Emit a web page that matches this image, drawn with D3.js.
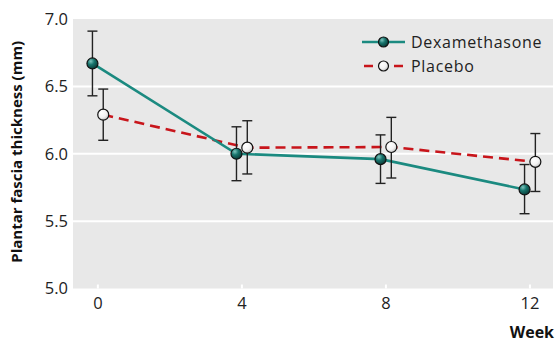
<!DOCTYPE html>
<html>
<head>
<meta charset="utf-8">
<script src="https://cdn.jsdelivr.net/npm/d3@7"></script>
<style>
  body { margin: 0; background: #fff; }
  text { font-family: "Open Sans", "Noto Sans", sans-serif; }
</style>
</head>
<body>
<div id="chart"></div>
<script>
// weeks on x axis
var weeks = [0, 4, 8, 12];
var yTicks = [5.0, 5.5, 6.0, 6.5, 7.0];

// mean and error bar (low / high)
var dexMean = [6.67, 6.00, 5.96, 5.735];
var dexLow  = [6.43, 5.80, 5.78, 5.555];
var dexHigh = [6.91, 6.20, 6.14, 5.92];

var plaMean = [6.29, 6.045, 6.05, 5.94];
var plaLow  = [6.10, 5.85, 5.82, 5.72];
var plaHigh = [6.48, 6.245, 6.27, 6.15];

var width = 555, height = 344;
var plotL = 73, plotR = 553, plotT = 19, plotB = 288.5;

var x = d3.scaleLinear().domain([-0.69, 12.64]).range([plotL, plotR]);
var y = d3.scaleLinear().domain([5, 7]).range([plotB, plotT]);

var svg = d3.select("#chart").append("svg")
    .attr("width", width)
    .attr("height", height);

var defs = svg.append("defs");
var grad = defs.append("radialGradient")
    .attr("id", "dexBall")
    .attr("cx", "35%").attr("cy", "30%").attr("r", "70%");
grad.append("stop").attr("offset", "0%").attr("stop-color", "#7fc4bd");
grad.append("stop").attr("offset", "45%").attr("stop-color", "#17756d");
grad.append("stop").attr("offset", "100%").attr("stop-color", "#0b3d39");

var grad2 = defs.append("radialGradient")
    .attr("id", "plaBall")
    .attr("cx", "35%").attr("cy", "30%").attr("r", "75%");
grad2.append("stop").attr("offset", "0%").attr("stop-color", "#ffffff");
grad2.append("stop").attr("offset", "60%").attr("stop-color", "#f2f2f2");
grad2.append("stop").attr("offset", "100%").attr("stop-color", "#bdbdbd");

// background panel
svg.append("rect")
    .attr("x", plotL).attr("y", plotT)
    .attr("width", plotR - plotL).attr("height", plotB - plotT)
    .attr("fill", "#e8e8e8");

// gridlines
svg.selectAll(".grid")
    .data(yTicks.slice(1, 4))
    .enter().append("line")
    .attr("x1", plotL).attr("x2", plotR)
    .attr("y1", function (d) { return y(d); })
    .attr("y2", function (d) { return y(d); })
    .attr("stroke", "#fff")
    .attr("stroke-width", 2);

// y axis labels
svg.selectAll(".ylab")
    .data(yTicks)
    .enter().append("text")
    .attr("x", plotL - 5)
    .attr("y", function (d) { return y(d); })
    .attr("dy", "0.35em")
    .attr("text-anchor", "end")
    .attr("font-size", 16.5)
    .attr("fill", "#222")
    .text(function (d) { return d.toFixed(1); });

// x axis tick marks + labels
svg.selectAll(".xtick")
    .data(weeks)
    .enter().append("line")
    .attr("x1", function (d) { return x(d); })
    .attr("x2", function (d) { return x(d); })
    .attr("y1", plotB - 4).attr("y2", plotB)
    .attr("stroke", "#fff")
    .attr("stroke-width", 2);

svg.selectAll(".xlab")
    .data(weeks)
    .enter().append("text")
    .attr("x", function (d) { return x(d); })
    .attr("y", 309)
    .attr("text-anchor", "middle")
    .attr("font-size", 16.5)
    .attr("fill", "#222")
    .text(function (d) { return d; });

svg.append("text")
    .attr("x", 554).attr("y", 338)
    .attr("text-anchor", "end")
    .attr("font-size", 16)
    .attr("font-weight", "bold")
    .attr("fill", "#111")
    .text("Week");

svg.append("text")
    .attr("transform", "translate(22," + ((plotT + plotB) / 2 - 2) + ") rotate(-90)")
    .attr("text-anchor", "middle")
    .attr("font-size", 15)
    .attr("font-weight", "bold")
    .attr("fill", "#111")
    .text("Plantar fascia thickness (mm)");

var off = 0.15;

function drawSeries(mean, low, high, dx, color, dash) {
    var pts = weeks.map(function (w, i) {
        return { x: w + dx, m: mean[i], lo: low[i], hi: high[i] };
    });
    var line = d3.line()
        .x(function (d) { return x(d.x); })
        .y(function (d) { return y(d.m); });
    svg.append("path")
        .datum(pts)
        .attr("d", line)
        .attr("fill", "none")
        .attr("stroke", color)
        .attr("stroke-width", 2.6)
        .attr("stroke-dasharray", dash);
    return pts;
}

function drawBars(pts, fill) {
    var g = svg.append("g");
    pts.forEach(function (d) {
        var cx = x(d.x);
        g.append("line")
            .attr("x1", cx).attr("x2", cx)
            .attr("y1", y(d.lo)).attr("y2", y(d.hi))
            .attr("stroke", "#222").attr("stroke-width", 1.4);
        [d.lo, d.hi].forEach(function (v) {
            g.append("line")
                .attr("x1", cx - 5).attr("x2", cx + 5)
                .attr("y1", y(v)).attr("y2", y(v))
                .attr("stroke", "#222").attr("stroke-width", 1.4);
        });
    });
    g.selectAll("circle")
        .data(pts)
        .enter().append("circle")
        .attr("cx", function (d) { return x(d.x); })
        .attr("cy", function (d) { return y(d.m); })
        .attr("r", 5.5)
        .attr("fill", fill)
        .attr("stroke", "#111")
        .attr("stroke-width", 1.2);
}

var plaPts = drawSeries(plaMean, plaLow, plaHigh, off, "#c8151b", "10,6");
var dexPts = drawSeries(dexMean, dexLow, dexHigh, -off, "#1b8a80", null);
drawBars(plaPts, "url(#plaBall)");
drawBars(dexPts, "url(#dexBall)");

// legend
var legend = [
    { name: "Dexamethasone", color: "#1b8a80", dash: null, fill: "url(#dexBall)", ly: 42 },
    { name: "Placebo", color: "#c8151b", dash: "9,6", fill: "url(#plaBall)", ly: 66 }
];
var lg = svg.selectAll(".leg")
    .data(legend)
    .enter().append("g");
lg.append("line")
    .attr("x1", function (d) { return d.dash ? 364 : 362; })
    .attr("x2", 405)
    .attr("y1", function (d) { return d.ly; })
    .attr("y2", function (d) { return d.ly; })
    .attr("stroke", function (d) { return d.color; })
    .attr("stroke-width", 2.6)
    .attr("stroke-dasharray", function (d) { return d.dash; });
lg.append("circle")
    .attr("cx", 383.5)
    .attr("cy", function (d) { return d.ly; })
    .attr("r", 5)
    .attr("fill", function (d) { return d.fill; })
    .attr("stroke", "#111")
    .attr("stroke-width", 1.2);
lg.append("text")
    .attr("x", 411)
    .attr("y", function (d) { return d.ly; })
    .attr("dy", "0.35em")
    .attr("font-size", 16)
    .attr("letter-spacing", 0.7)
    .attr("fill", "#222")
    .text(function (d) { return d.name; });
</script>
</body>
</html>
